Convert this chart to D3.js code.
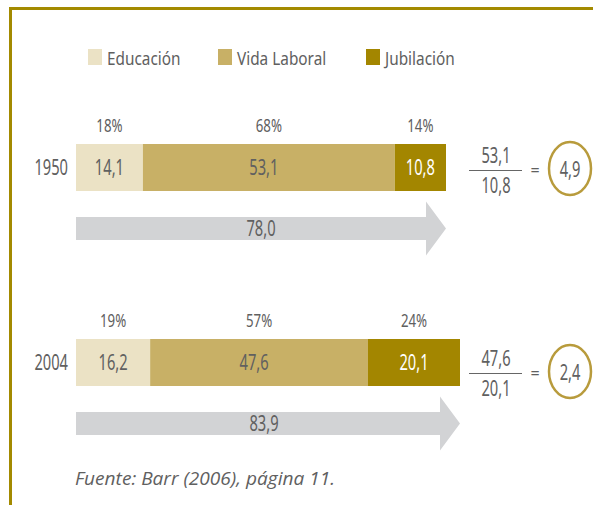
<!DOCTYPE html>
<html>
<head>
<meta charset="utf-8">
<script src="https://cdn.jsdelivr.net/npm/d3@7"></script>
<style>
    body{margin:0;background:#fff;}
    svg text{font-family:"Noto Sans",sans-serif;fill:#606060;}
    .fuente{font-family:"Open Sans","Noto Sans",sans-serif;font-style:italic;}
</style>
</head>
<body>
<div class="chart"></div>
<script>
//数据
var years=["1950","2004"];
var categories=["Educación","Vida Laboral","Jubilación"];
var educacion=[14.1,16.2];
var vidaLaboral=[53.1,47.6];
var jubilacion=[10.8,20.1];
var pctEducacion=[18,19];
var pctVidaLaboral=[68,57];
var pctJubilacion=[14,24];
var totales=[78.0,83.9];
var ratios=[4.9,2.4];

var colors=["#ebe2c5","#c8b066","#a38600"];
var fmt=function (v) {
    return d3.format(".1f")(v).replace(".",",");
};

var width=593,height=505;
var svg=d3.select(".chart")
    .append("svg")
    .attr("width",width)
    .attr("height",height);

//窄字体：横向压缩
function label(parent,x,y,str,size,sx,anchor) {
    return parent.append("text")
        .attr("transform","translate("+x+","+y+") scale("+sx+",1)")
        .attr("text-anchor",anchor||"middle")
        .attr("font-size",size)
        .text(str);
}

//边框
svg.append("path")
    .attr("d","M10.5,"+(height+5)+" L10.5,8.5 L"+(width+5)+",8.5")
    .attr("fill","none")
    .attr("stroke","#a38a00")
    .attr("stroke-width",3);

//图例
var legendX=[88,218,366];
var legend=svg.append("g").selectAll("g")
    .data(categories)
    .enter().append("g")
    .attr("transform",function (d,i) { return "translate("+legendX[i]+",49)"; });
legend.append("rect")
    .attr("width",14)
    .attr("height",16)
    .attr("fill",function (d,i) { return colors[i]; });
legend.each(function (d) {
    label(d3.select(this),19,15.5,d,18.5,0.83,"start");
});

//行位置
var y=d3.scalePoint().domain(years).range([144,339]);
var barH=47;
var rowEnd=[446,460];       //每行比例尺的右端
var fracOffset=[3,11];      //分数的垂直偏移
var numSize=21,numSx=0.7;

years.forEach(function (year,i) {
    var x=d3.scaleLinear().domain([0,totales[i]]).range([76,rowEnd[i]]);
    var vals=[educacion[i],vidaLaboral[i],jubilacion[i]];
    var pcts=[pctEducacion[i],pctVidaLaboral[i],pctJubilacion[i]];
    var stack=[];
    var acc=0;
    vals.forEach(function (v,k) {
        stack.push({x0:acc,x1:acc+v,v:v,p:pcts[k],k:k});
        acc+=v;
    });
    var y0=y(year);
    var g=svg.append("g");

    label(g,68,y0+barH/2+7.5,year,numSize,numSx,"end");

    g.selectAll("rect.seg")
        .data(stack)
        .enter().append("rect")
        .attr("class","seg")
        .attr("x",function (d) { return x(d.x0); })
        .attr("y",y0)
        .attr("width",function (d) { return x(d.x1)-x(d.x0); })
        .attr("height",barH)
        .attr("fill",function (d) { return colors[d.k]; });

    stack.forEach(function (d) {
        var cx=(x(d.x0)+x(d.x1))/2;
        var t=label(g,cx-(d.k==1?5:0),y0+barH/2+7.5,fmt(d.v),numSize,numSx);
        if(d.k==2) t.style("fill","#fff");
        label(g,cx,y0-12,d.p+"%",19,0.7);
    });

    //箭头
    var ay=y0+barH+26,bh=23,hh=54,hw=20;
    var xs=x(0),xe=x(totales[i]);
    var ac=ay+bh/2;
    g.append("path")
        .attr("d","M"+xs+","+ay+" L"+(xe-hw)+","+ay+" L"+(xe-hw)+","+(ac-hh/2)+" L"+xe+","+ac+
            " L"+(xe-hw)+","+(ac+hh/2)+" L"+(xe-hw)+","+(ay+bh)+" L"+xs+","+(ay+bh)+"Z")
        .attr("fill","#d2d3d5");
    label(g,(xs+xe)/2-(i==0?0:4),ac+7.5,fmt(totales[i]),numSize,numSx);

    //分数
    var fy=y0+barH/2+fracOffset[i];
    g.append("line")
        .attr("x1",469).attr("x2",522)
        .attr("y1",fy).attr("y2",fy)
        .attr("stroke","#666")
        .attr("stroke-width",1.2);
    label(g,496,fy-8,fmt(vidaLaboral[i]),numSize,numSx);
    label(g,496,fy+22,fmt(jubilacion[i]),numSize,numSx);
    g.append("text")
        .attr("x",535).attr("y",fy+5)
        .attr("text-anchor","middle")
        .attr("font-size",16)
        .text("=");
    g.append("ellipse")
        .attr("cx",570).attr("cy",fy-2)
        .attr("rx",21).attr("ry",26.5)
        .attr("fill","none")
        .attr("stroke","#b89b3c")
        .attr("stroke-width",2.5);
    label(g,570,fy+6,fmt(ratios[i]),numSize,numSx);
});

//来源
svg.append("text")
    .attr("class","fuente")
    .attr("x",75)
    .attr("y",485)
    .attr("font-size",18)
    .attr("textLength",260)
    .attr("lengthAdjust","spacingAndGlyphs")
    .text("Fuente: Barr (2006), página 11.");
</script>
</body>
</html>
